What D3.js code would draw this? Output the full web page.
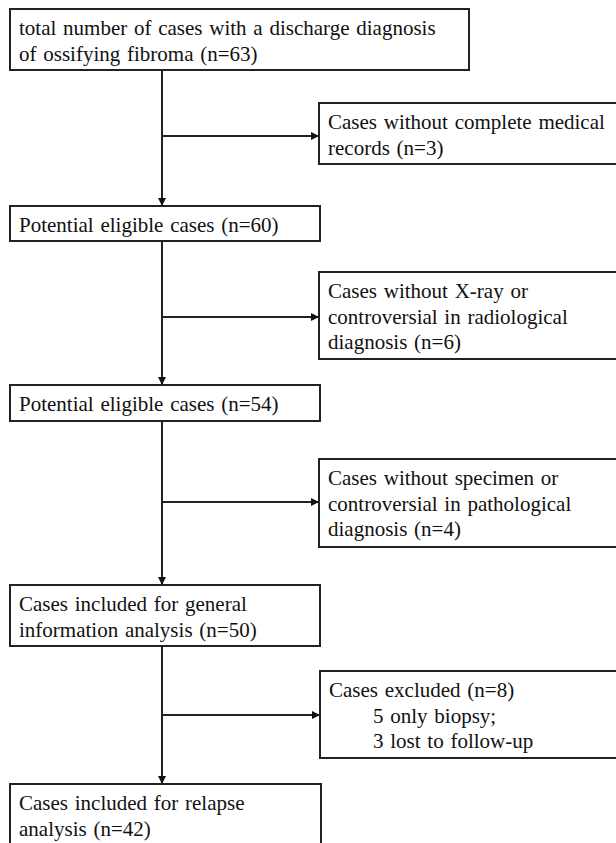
<!DOCTYPE html>
<html>
<head>
<meta charset="utf-8">
<script src="https://cdn.jsdelivr.net/npm/d3@7"></script>
<style>
  html, body { margin: 0; padding: 0; background: #fff; }
  svg { display: block; }
</style>
</head>
<body>
<div id="chart"></div>
<script>
// ---- data: flow stages ----
const mainStages = [
  ["total number of cases with a discharge diagnosis", "of ossifying fibroma (n=63)"],
  ["Potential eligible cases (n=60)"],
  ["Potential eligible cases (n=54)"],
  ["Cases included for general", "information analysis (n=50)"],
  ["Cases included for relapse", "analysis (n=42)"]
];
const counts = [63, 60, 54, 50, 42];
const exclusions = [
  ["Cases without complete medical", "records (n=3)"],
  ["Cases without X-ray or", "controversial in radiological", "diagnosis (n=6)"],
  ["Cases without specimen or", "controversial in pathological", "diagnosis (n=4)"],
  ["Cases excluded (n=8)", "5 only biopsy;", "3 lost to follow-up"]
];
const excludedCounts = [3, 6, 4, 8];
const indentedLines = [[], [], [], [1, 2]];

// ---- layout ----
const W = 616, H = 843;
const mainLayout = [
  { x0: 10, x1: 469, y0: 9, y1: 70 },
  { x0: 10, x1: 320, y0: 206, y1: 241 },
  { x0: 10, x1: 320, y0: 385, y1: 421 },
  { x0: 10, x1: 320, y0: 585, y1: 646 },
  { x0: 10, x1: 321, y0: 784, y1: 862 }
];
const sideLayout = [
  { x0: 319, x1: 630, y0: 103, y1: 164, arrowY: 136 },
  { x0: 319, x1: 630, y0: 272, y1: 359, arrowY: 317 },
  { x0: 319, x1: 630, y0: 459, y1: 547, arrowY: 502 },
  { x0: 320, x1: 630, y0: 671, y1: 758, arrowY: 715 }
];
const spineX = 162;
const lineH = 25.5;
const firstBase = 26;
const padX = 9;
const indentX = 44;
const FONT = "'Liberation Serif', 'Times New Roman', Times, 'DejaVu Serif', serif";

const svg = d3.select("#chart").append("svg")
  .attr("width", W).attr("height", H)
  .attr("viewBox", `0 0 ${W} ${H}`);

svg.append("rect").attr("width", W).attr("height", H).attr("fill", "#fff");

const defs = svg.append("defs");
defs.append("marker")
  .attr("id", "arrow")
  .attr("viewBox", "0 0 10 10")
  .attr("refX", 10).attr("refY", 5)
  .attr("markerUnits", "userSpaceOnUse")
  .attr("markerWidth", 9).attr("markerHeight", 8)
  .attr("orient", "auto")
  .append("path").attr("d", "M0,0 L10,5 L0,10 Z").attr("fill", "#111");

const stroke = "#222";

// connectors
const links = d3.range(mainStages.length - 1).map(i => ({ from: mainLayout[i], to: mainLayout[i + 1], side: sideLayout[i] }));

svg.selectAll("line.spine").data(links).join("line")
  .attr("class", "spine")
  .attr("x1", spineX).attr("x2", spineX)
  .attr("y1", d => d.from.y1).attr("y2", d => d.to.y0)
  .attr("stroke", stroke).attr("stroke-width", 2)
  .attr("marker-end", "url(#arrow)");

svg.selectAll("line.branch").data(links).join("line")
  .attr("class", "branch")
  .attr("x1", spineX).attr("x2", d => d.side.x0)
  .attr("y1", d => d.side.arrowY).attr("y2", d => d.side.arrowY)
  .attr("stroke", stroke).attr("stroke-width", 2)
  .attr("marker-end", "url(#arrow)");

// boxes
function drawBox(g, layout, lines, indents) {
  g.append("rect")
    .attr("x", layout.x0).attr("y", layout.y0)
    .attr("width", layout.x1 - layout.x0).attr("height", layout.y1 - layout.y0)
    .attr("fill", "#fff").attr("stroke", stroke).attr("stroke-width", 2);
  g.selectAll("text").data(lines).join("text")
    .attr("x", (d, i) => layout.x0 + padX + (indents.includes(i) ? indentX : 0))
    .attr("y", (d, i) => layout.y0 + firstBase + i * lineH)
    .attr("font-family", FONT)
    .attr("font-size", 21)
    .attr("fill", "#111")
    .attr("word-spacing", "1.5px")
    .text(d => d);
}

mainStages.forEach((lines, i) => {
  drawBox(svg.append("g").attr("class", "main-box").datum(counts[i]), mainLayout[i], lines, []);
});
exclusions.forEach((lines, i) => {
  drawBox(svg.append("g").attr("class", "side-box").datum(excludedCounts[i]), sideLayout[i], lines, indentedLines[i]);
});
</script>
</body>
</html>
